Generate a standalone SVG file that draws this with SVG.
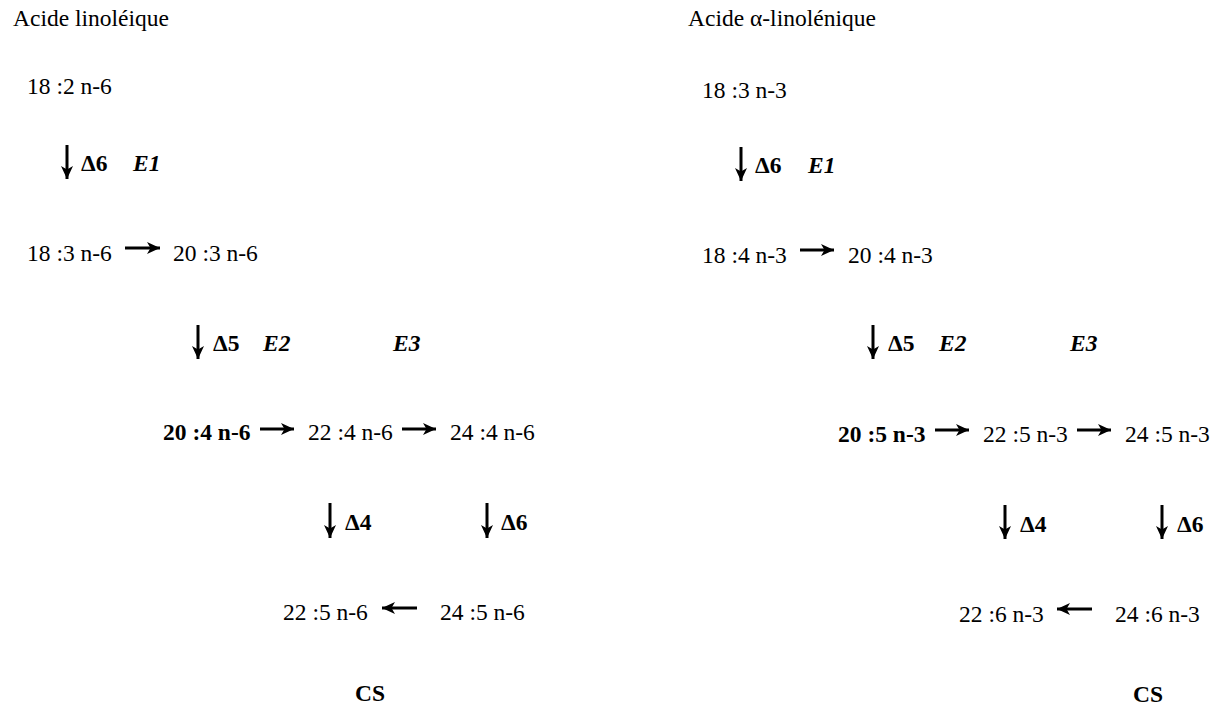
<svg xmlns="http://www.w3.org/2000/svg" width="1222" height="706" viewBox="0 0 1222 706">
<style>
text{font-family:"Liberation Serif","Times New Roman",serif;font-size:23.5px;fill:#000}
.b{font-weight:bold}
.bi{font-weight:bold;font-style:italic}
.arr{stroke:#000;stroke-width:3;fill:none;marker-end:url(#ah)}
</style>
<defs>
<marker id="ah" markerUnits="userSpaceOnUse" markerWidth="16" markerHeight="14" refX="13" refY="6" orient="auto">
<path d="M0,0 L13,6 L0,12 L3.5,6 Z" fill="#000"/>
</marker>
</defs>
<rect width="1222" height="706" fill="#fff"/>
<g id="connectors">
<line class="arr" x1="67" y1="145" x2="67" y2="179"/>
<line class="arr" x1="125" y1="248" x2="160" y2="248"/>
<line class="arr" x1="198" y1="325" x2="198" y2="359"/>
<line class="arr" x1="260" y1="429" x2="294" y2="429"/>
<line class="arr" x1="402" y1="429" x2="436" y2="429"/>
<line class="arr" x1="330" y1="503" x2="330" y2="538"/>
<line class="arr" x1="487" y1="503" x2="487" y2="538"/>
<line class="arr" x1="417" y1="608" x2="382" y2="608"/>
<line class="arr" x1="741" y1="147" x2="741" y2="181"/>
<line class="arr" x1="800" y1="250" x2="834" y2="250"/>
<line class="arr" x1="873" y1="325" x2="873" y2="359"/>
<line class="arr" x1="935" y1="430" x2="969" y2="430"/>
<line class="arr" x1="1077" y1="430" x2="1111" y2="430"/>
<line class="arr" x1="1005" y1="505" x2="1005" y2="539"/>
<line class="arr" x1="1162" y1="505" x2="1162" y2="539"/>
<line class="arr" x1="1092" y1="609" x2="1057" y2="609"/>
</g>
<g id="title-left"><text x="13" y="26">Acide linoléique</text></g>
<g id="n-18-2-n6"><text x="27" y="94">18 :2 n-6</text></g>
<g id="lbl-d6-e1-left"><text class="b" x="81" y="171">Δ6</text><text class="bi" x="133" y="171">E1</text></g>
<g id="n-18-3-n6"><text x="27" y="261">18 :3 n-6</text></g>
<g id="n-20-3-n6"><text x="173" y="261">20 :3 n-6</text></g>
<g id="lbl-d5-e2-e3-left"><text class="b" x="213" y="351">Δ5</text><text class="bi" x="263" y="351">E2</text><text class="bi" x="393" y="351">E3</text></g>
<g id="n-20-4-n6"><text class="b" x="163" y="440">20 :4 n-6</text></g>
<g id="n-22-4-n6"><text x="308" y="440">22 :4 n-6</text></g>
<g id="n-24-4-n6"><text x="450" y="440">24 :4 n-6</text></g>
<g id="lbl-d4-left"><text class="b" x="345" y="530">Δ4</text></g>
<g id="lbl-d6b-left"><text class="b" x="501" y="530">Δ6</text></g>
<g id="n-22-5-n6"><text x="283" y="620">22 :5 n-6</text></g>
<g id="n-24-5-n6"><text x="440" y="620">24 :5 n-6</text></g>
<g id="cs-left"><text class="b" x="355" y="701">CS</text></g>

<g id="title-right"><text x="688" y="26">Acide α-linolénique</text></g>
<g id="n-18-3-n3"><text x="702" y="98">18 :3 n-3</text></g>
<g id="lbl-d6-e1-right"><text class="b" x="755" y="173">Δ6</text><text class="bi" x="808" y="173">E1</text></g>
<g id="n-18-4-n3"><text x="702" y="263">18 :4 n-3</text></g>
<g id="n-20-4-n3"><text x="848" y="263">20 :4 n-3</text></g>
<g id="lbl-d5-e2-e3-right"><text class="b" x="888" y="351">Δ5</text><text class="bi" x="939" y="351">E2</text><text class="bi" x="1070" y="351">E3</text></g>
<g id="n-20-5-n3"><text class="b" x="838" y="442">20 :5 n-3</text></g>
<g id="n-22-5-n3"><text x="983" y="442">22 :5 n-3</text></g>
<g id="n-24-5-n3"><text x="1125" y="442">24 :5 n-3</text></g>
<g id="lbl-d4-right"><text class="b" x="1020" y="532">Δ4</text></g>
<g id="lbl-d6b-right"><text class="b" x="1177" y="532">Δ6</text></g>
<g id="n-22-6-n3"><text x="959" y="622">22 :6 n-3</text></g>
<g id="n-24-6-n3"><text x="1115" y="622">24 :6 n-3</text></g>
<g id="cs-right"><text class="b" x="1133" y="702">CS</text></g>
</svg>
